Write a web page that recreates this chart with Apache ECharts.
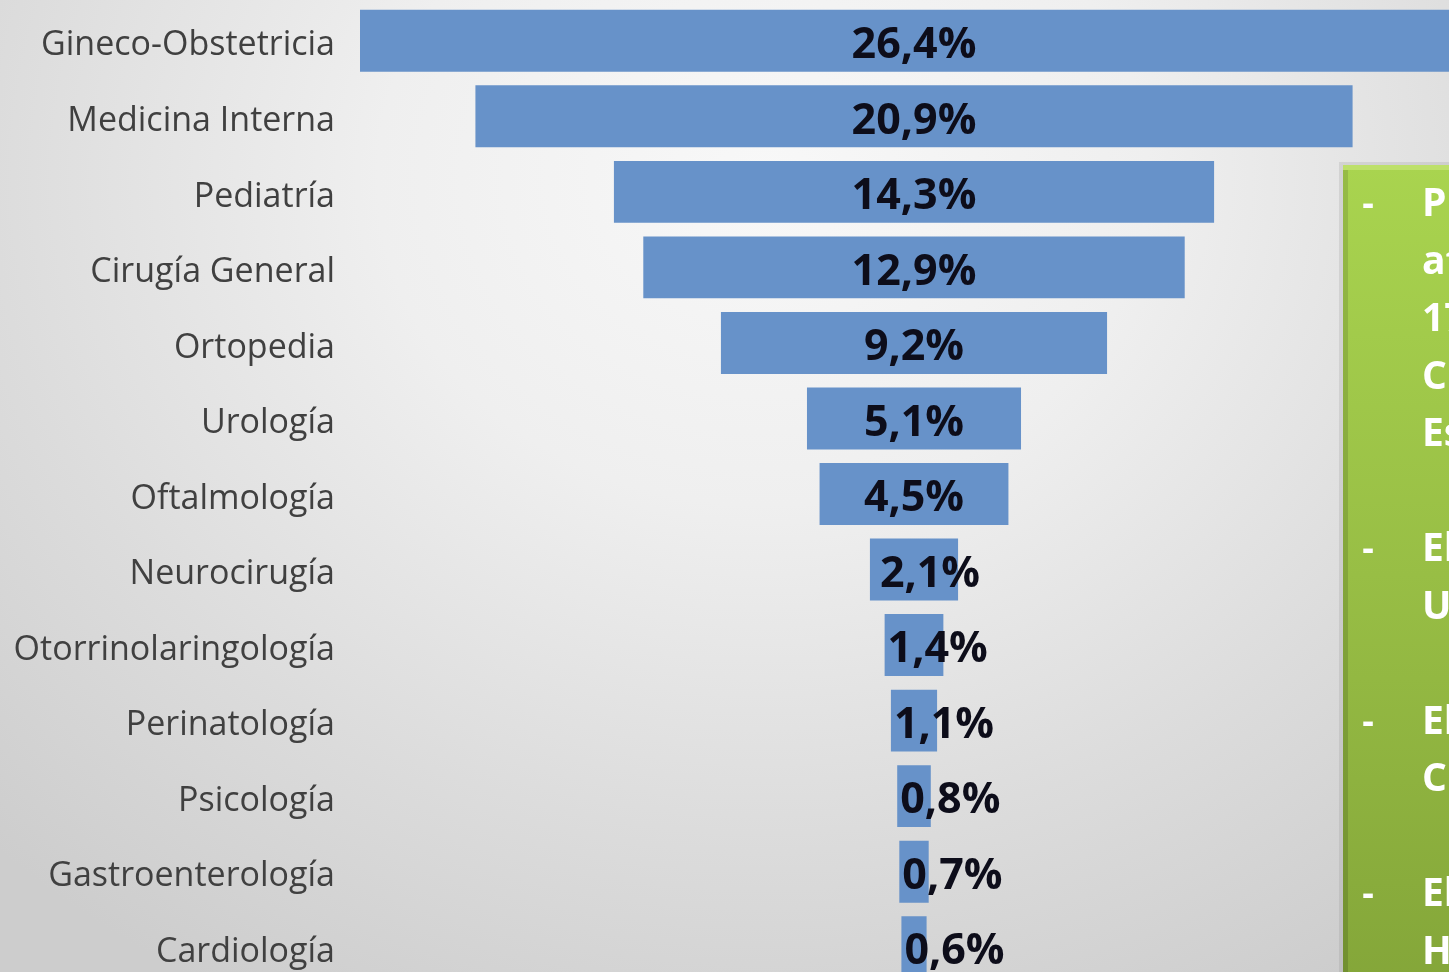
<!DOCTYPE html>
<html>
<head>
<meta charset="utf-8">
<script src="https://cdn.jsdelivr.net/npm/echarts@6/dist/echarts.min.js"></script>
<style>
html,body{margin:0;padding:0;width:1449px;height:972px;overflow:hidden;}
#c{width:1468px;height:985px;background:radial-gradient(ellipse 75% 95% at 52% 18%, #f8f8f8 0%, #efefef 35%, #dcdcdc 70%, #cdcdcd 100%);}
</style>
</head>
<body>
<div id="c"></div>
<script>
var categories = ['Gineco-Obstetricia','Medicina Interna','Pediatría','Cirugía General','Ortopedia','Urología','Oftalmología','Neurocirugía','Otorrinolaringología','Perinatología','Psicología','Gastroenterología','Cardiología'];
var values = [26.4, 20.9, 14.3, 12.9, 9.2, 5.1, 4.5, 2.1, 1.4, 1.1, 0.8, 0.7, 0.6];
var maxValue = 26.4;
var boxLines = ['P', 'at', '17', 'C', 'Es', '', 'El', 'U', '', 'El', 'C', '', 'El', 'H'];
var boxBullets = ['-', '', '', '', '', '', '-', '', '', '-', '', '', '-', ''];

var offsets = values.map(function (v) { return (maxValue - v) / 2; });
var visible = values.map(function (v) {
  var item = { value: v };
  if (v < 3) {
    item.label = { position: 'insideLeft', distance: v > 2 ? 10 : 3 };
  }
  return item;
});

var chart = echarts.init(document.getElementById('c'), null, { renderer: 'canvas' });

var graphics = [
  { type: 'rect', shape: { x: 1339, y: 162, width: 140, height: 830 }, style: { fill: 'rgba(130,130,130,0.18)' }, z: 10 },
  { type: 'rect', shape: { x: 1343, y: 165, width: 130, height: 820 },
    style: { fill: new echarts.graphic.LinearGradient(0, 0, 0, 1, [
      { offset: 0, color: '#a9d44f' }, { offset: 0.5, color: '#98be45' }, { offset: 1, color: '#84a639' }]) }, z: 11 },
  { type: 'rect', shape: { x: 1343, y: 165, width: 5, height: 820 },
    style: { fill: new echarts.graphic.LinearGradient(0, 0, 0, 1, [
      { offset: 0, color: '#96bb46' }, { offset: 1, color: '#718f30' }]) }, z: 12 },
  { type: 'rect', shape: { x: 1343, y: 165, width: 130, height: 5 }, style: { fill: '#bde06a' }, z: 12 }
];
boxLines.forEach(function (t, i) {
  var y = 205 + i * 57.5;
  if (boxBullets[i]) {
    graphics.push({ type: 'text', x: 1368, y: y, style: { text: boxBullets[i], fill: '#ffffff', font: 'bold 36px "Open Sans"', textAlign: 'center', textVerticalAlign: 'middle' }, z: 13 });
  }
  if (t) {
    graphics.push({ type: 'text', x: 1422, y: y, style: { text: t, fill: '#ffffff', font: 'bold 39px "Open Sans"', textAlign: 'left', textVerticalAlign: 'middle' }, z: 13 });
  }
});

chart.setOption({
  backgroundColor: 'transparent',
  animation: false,
  grid: { left: 360, top: 3, right: 0, bottom: 0, containLabel: false },
  xAxis: { type: 'value', min: 0, max: maxValue, show: false },
  yAxis: {
    type: 'category', data: categories, inverse: true,
    axisLine: { show: false }, axisTick: { show: false }, splitLine: { show: false },
    axisLabel: { margin: 25, color: '#404040', fontSize: 34, fontFamily: 'Open Sans', verticalAlign: 'top', lineHeight: 10 }
  },
  series: [
    { type: 'bar', stack: 'f', data: offsets, itemStyle: { color: 'transparent' }, barCategoryGap: '18%', silent: true, clip: false },
    { type: 'bar', stack: 'f', data: visible, barCategoryGap: '18%', clip: false,
      itemStyle: { color: '#6792c9' },
      label: { show: true, position: 'inside', offset: [0, 5], color: '#0d0d1a', fontSize: 43, fontWeight: 'bold', fontFamily: 'Open Sans',
        formatter: function (p) { return String(p.value).replace('.', ',') + '%'; } } }
  ],
  graphic: graphics
});
</script>
</body>
</html>
